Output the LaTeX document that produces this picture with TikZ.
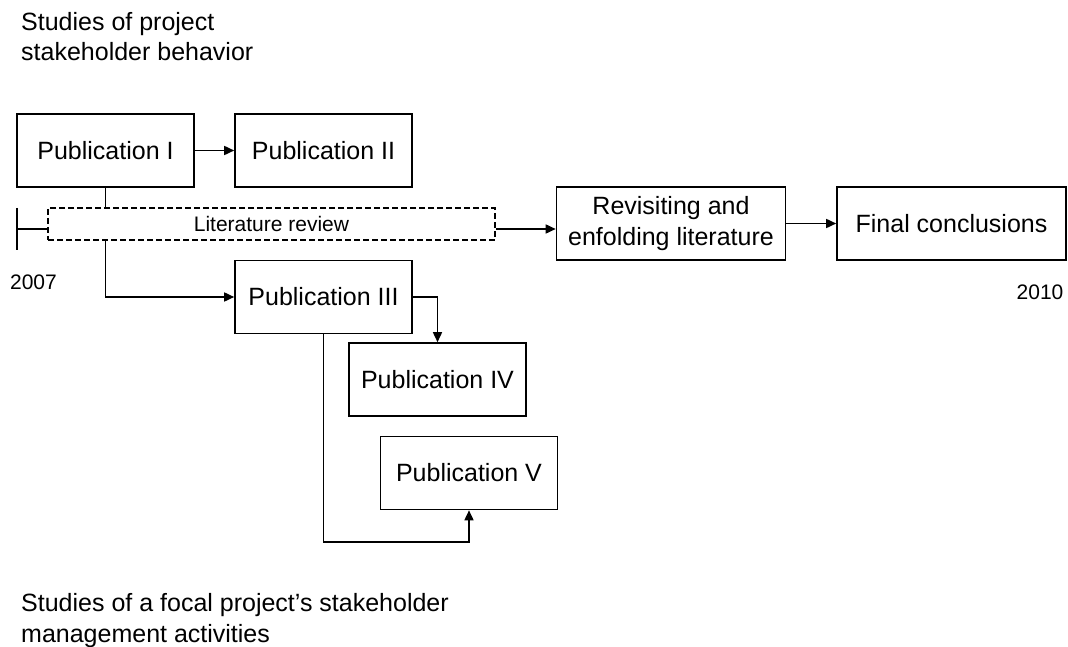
\documentclass[tikz,border=0pt]{standalone}
\usepackage{fontspec}
\setmainfont{Liberation Sans}
\usetikzlibrary{arrows.meta,positioning}

\begin{document}
\begin{tikzpicture}[x=1pt,y=-1pt,
  pub/.style={draw,line width=1.6pt,minimum width=177pt,minimum height=73pt,inner sep=0pt,align=center,font=\fontsize{25}{31}\selectfont},
  wide/.style={pub,minimum width=229pt},
  review/.style={draw,dashed,dash pattern=on 6pt off 3pt,line width=1.1pt,minimum width=447pt,minimum height=32pt,inner sep=0pt,font=\fontsize{21}{25}\selectfont},
  year/.style={inner sep=0pt,font=\fontsize{21}{25}\selectfont},
  note/.style={inner sep=0pt,align=left,font=\fontsize{25}{30.5}\selectfont},
  link/.style={line width=1.6pt,-{Triangle[length=10pt,width=9pt]}},
  line/.style={line width=1.6pt}]
\useasboundingbox[fill=white] (0,0) rectangle (1068,647);
% headings
\node[note,anchor=base west] (topnote) at (21,61) {Studies of project\\stakeholder behavior};
\node[note,anchor=base west] (botnote) at (21,642) {Studies of a focal project’s stakeholder\\management activities};
% boxes
\node[pub] (pubI) at (105.5,150.5) {Publication I};
\node[pub] (pubII) at (323.5,150.5) {Publication II};
\node[review] (litrev) at (271.5,224) {Literature review};
\node[wide] (revisit) at (671,223.5) {Revisiting and\\enfolding literature};
\node[wide] (final) at (951.5,223.5) {Final conclusions};
\node[pub] (pubIII) at (323.5,297) {Publication III};
\node[pub] (pubIV) at (437.5,379.5) {Publication IV};
\node[pub] (pubV) at (469,473) {Publication V};
% years
\node[year] (y2007) at (33.5,282) {2007};
\node[year] (y2010) at (1040,292) {2010};
% time line
\coordinate (start) at (17,229);
\coordinate (tickup) at (17,208);
\coordinate (tickdown) at (17,250);
\coordinate (loop) at (323.5,542);
\draw[line] (tickup) -- (tickdown);
\draw[line] (start) -- (start -| litrev.west);
\draw[link] (litrev.east |- start) -- (revisit.west |- start);
\draw[link] (revisit) -- (final);
% publications
\draw[link] (pubI) -- (pubII);
\draw[line] (pubI.south) -- (pubI.south |- litrev.north);
\draw[link] (pubI.south |- litrev.south) |- (pubIII.west);
\draw[link] (pubIII.east) -| (pubIV.north);
\draw[link] (pubIII.south) -- (loop) -| (pubV.south);
\end{tikzpicture}
\end{document}
